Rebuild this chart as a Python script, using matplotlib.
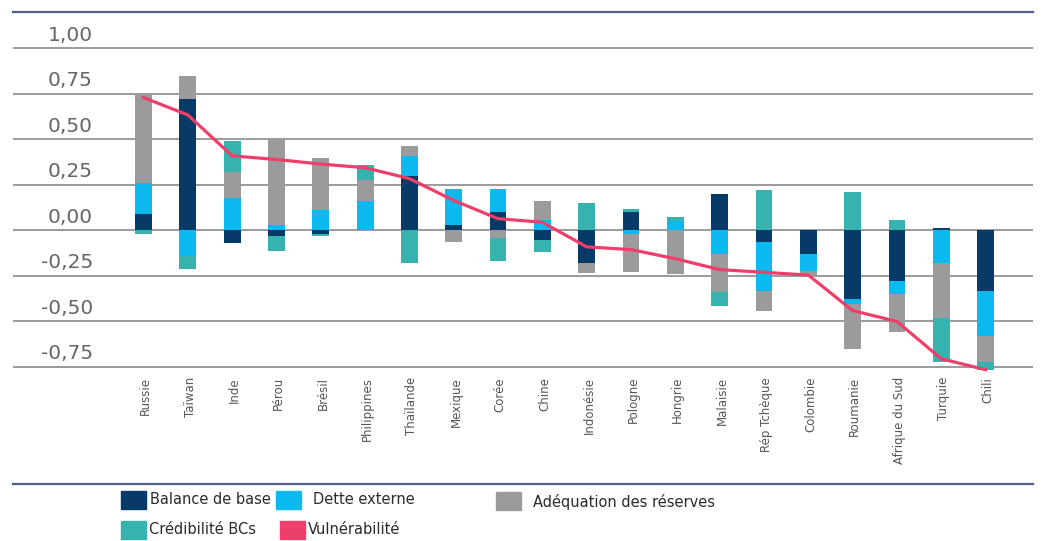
import matplotlib.pyplot as plt
import matplotlib.patches as mpatches
import numpy as np

# Pays (ordre du graphique)
pays = ['Russie', 'Taïwan', 'Inde', 'Pérou', 'Brésil', 'Philippines', 'Thaïlande',
        'Mexique', 'Corée', 'Chine', 'Indonésie', 'Pologne', 'Hongrie', 'Malaisie',
        'Rép Tchèque', 'Colombie', 'Roumanie', 'Afrique du Sud', 'Turquie', 'Chili']

# Composantes
balance_base = [0.09, 0.72, -0.07, -0.03, -0.02, 0.0, 0.30, 0.03, 0.10, -0.05,
                -0.18, 0.10, 0.0, 0.20, -0.065, -0.13, -0.375, -0.28, 0.015, -0.33]
dette_externe = [0.17, -0.14, 0.18, 0.03, 0.11, 0.16, 0.11, 0.19, 0.13, 0.055,
                 0.0, -0.02, 0.05, -0.13, -0.27, -0.095, -0.03, -0.07, -0.18, -0.25]
adequation = [0.49, 0.13, 0.14, 0.48, 0.29, 0.115, 0.055, -0.065, -0.04, 0.105,
              -0.055, -0.21, -0.24, -0.21, -0.105, -0.02, -0.245, -0.21, -0.30, -0.145]
credibilite = [-0.02, -0.07, 0.17, -0.085, -0.01, 0.085, -0.18, 0.01, -0.13, -0.07,
               0.15, 0.02, 0.025, -0.075, 0.22, 0.0, 0.21, 0.055, -0.245, -0.04]
vulnerabilite = [0.73, 0.635, 0.41, 0.39, 0.365, 0.345, 0.285, 0.165, 0.065, 0.045,
                 -0.09, -0.105, -0.155, -0.215, -0.23, -0.245, -0.44, -0.50, -0.705, -0.765]

y_ticks = [1.0, 0.75, 0.5, 0.25, 0.0, -0.25, -0.5, -0.75]

series = [('Balance de base', balance_base, '#073a66'),
          ('Dette externe', dette_externe, '#0bb8ef'),
          ('Adéquation des réserves', adequation, '#9b9b9e'),
          ('Crédibilité BCs', credibilite, '#36b3ae')]
line_color = '#ee3e6a'

W, H = 1044, 541
fig = plt.figure(figsize=(W / 100, H / 100), dpi=100)
ax = fig.add_axes([13 / W, 1 - 484 / H, 1020 / W, 472 / H])

x = np.arange(len(pays))
pos_base = np.zeros(len(pays))
neg_base = np.zeros(len(pays))
for name, vals, color in series:
    v = np.array(vals)
    bottom = np.where(v >= 0, pos_base, neg_base)
    ax.bar(x, v, 0.38, bottom=bottom, color=color, zorder=2, linewidth=0)
    pos_base += np.where(v >= 0, v, 0)
    neg_base += np.where(v < 0, v, 0)

ax.plot(x, vulnerabilite, color=line_color, lw=2.3, zorder=3, solid_joinstyle='round')

# grille horizontale
for t in y_ticks:
    ax.axhline(t, color='#8a8a8a', lw=1.2, zorder=1)
    ax.text(0.0784, t + 0.072, f'{t:.2f}'.replace('.', ','), transform=ax.get_yaxis_transform(),
            ha='right', va='center', fontsize=14.5, color='#666666')

# étiquettes des pays (verticales)
for i, p in enumerate(pays):
    ax.text(i + 0.05, -0.805, p, rotation=90, ha='center', va='top',
            fontsize=8.5, color='#555555')

ax.set_xlim(-2.945, 20.07)
ax.set_ylim(-1.393, 1.2005)
ax.set_xticks([])
ax.set_yticks([])
for s in ['left', 'right']:
    ax.spines[s].set_visible(False)
for s in ['top', 'bottom']:
    ax.spines[s].set_color('#4f628a')
    ax.spines[s].set_linewidth(1.6)

# légende placée à la main
legend_items = [('Balance de base', series[0][2], 121, 491, 150, 500),
                ('Dette externe', series[1][2], 276, 491, 313, 500),
                ('Adéquation des réserves', series[2][2], 496, 492, 533, 502),
                ('Crédibilité BCs', series[3][2], 121, 521, 149, 529),
                ('Vulnérabilité', line_color, 280, 521, 308, 529)]
for label, color, px, py, tx, ty in legend_items:
    fig.patches.append(mpatches.Rectangle((px / W, 1 - (py + 18) / H), 25 / W, 18 / H,
                                          transform=fig.transFigure, color=color))
    fig.text(tx / W, 1 - ty / H, label, ha='left', va='center', fontsize=10.5, color='#2b2b2b')

plt.savefig('out.png', dpi=100)
